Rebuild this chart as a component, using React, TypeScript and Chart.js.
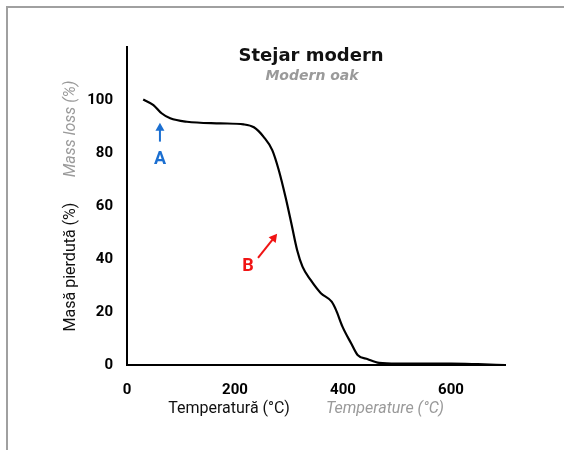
import { useEffect, useRef } from "react";
import { Chart, registerables } from "chart.js";

Chart.register(...registerables);

// ---- data ----
const TEMPERATURE = [30, 49, 64, 80, 111, 173, 216, 235, 253, 269, 281, 294, 305, 315, 325, 340, 359, 379, 387, 399, 415, 427, 446, 467, 500, 550, 600, 650, 700];
const MASS_LOSS = [100.2, 98.1, 95, 93.1, 91.8, 91.2, 90.8, 89.7, 86.1, 81.1, 73.6, 63, 52.8, 43.4, 37.1, 32.1, 27.1, 23.9, 20.8, 14.5, 8.2, 3.8, 2.2, 0.8, 0.5, 0.5, 0.5, 0.3, 0];
const X_TICKS = [0, 200, 400, 600];
const Y_TICKS = [0, 20, 40, 60, 80, 100];
const X_MAX = 700;
const Y_MAX = 120;

// ---- text ----
const TITLE = "Stejar modern";
const SUBTITLE = "Modern oak";
const Y_TITLE_RO = "Masă pierdută (%)";
const Y_TITLE_EN = "Mass loss (%)";
const X_TITLE_RO = "Temperatură (°C)";
const X_TITLE_EN = "Temperature (°C)";

// ---- annotations (data coordinates) ----
const LABEL_A = "A";
const ARROW_A_FROM = [61, 84.3];
const ARROW_A_TO = [61, 91.4];
const LABEL_A_AT = [61, 77.7];
const LABEL_B = "B";
const ARROW_B_FROM = [242.6, 40.4];
const ARROW_B_TO = [278, 49.5];
const LABEL_B_AT = [224, 37];

const BLUE = "#1b6fd1";
const RED = "#f01414";
const GRAY = "#9a9a9a";

function drawArrow(ctx: CanvasRenderingContext2D, x1: number, y1: number, x2: number, y2: number, color: string) {
  const head = 8;
  const half = 4.5;
  const ang = Math.atan2(y2 - y1, x2 - x1);
  const c = Math.cos(ang);
  const s = Math.sin(ang);
  ctx.save();
  ctx.strokeStyle = color;
  ctx.fillStyle = color;
  ctx.lineWidth = 2;
  ctx.beginPath();
  ctx.moveTo(x1, y1);
  ctx.lineTo(x2 - head * 0.8 * c, y2 - head * 0.8 * s);
  ctx.stroke();
  ctx.beginPath();
  ctx.moveTo(x2, y2);
  ctx.lineTo(x2 - head * c + half * s, y2 - head * s - half * c);
  ctx.lineTo(x2 - head * c - half * s, y2 - head * s + half * c);
  ctx.closePath();
  ctx.fill();
  ctx.restore();
}

const overlayPlugin = {
  id: "overlay",
  afterDraw(chart: any) {
    const ctx: CanvasRenderingContext2D = chart.ctx;
    const xs = chart.scales.x;
    const ys = chart.scales.y;
    ctx.save();
    ctx.textAlign = "center";
    ctx.textBaseline = "middle";

    // titles
    ctx.fillStyle = "#111";
    ctx.font = "bold 18px 'DejaVu Sans'";
    ctx.fillText(TITLE, 311, 56);
    ctx.fillStyle = GRAY;
    ctx.font = "italic bold 14px 'DejaVu Sans'";
    ctx.fillText(SUBTITLE, 312, 76);

    // x titles
    ctx.font = "16px Roboto";
    ctx.fillStyle = "#111";
    ctx.fillText(X_TITLE_RO, 229, 409);
    ctx.font = "italic 16px Roboto";
    ctx.fillStyle = GRAY;
    ctx.fillText(X_TITLE_EN, 385, 409);

    // y titles
    ctx.save();
    ctx.translate(71, 0);
    ctx.rotate(-Math.PI / 2);
    ctx.font = "16px Roboto";
    ctx.fillStyle = "#111";
    ctx.fillText(Y_TITLE_RO, -267, 0);
    ctx.font = "italic 16px Roboto";
    ctx.fillStyle = GRAY;
    ctx.fillText(Y_TITLE_EN, -129, 0);
    ctx.restore();

    // annotations
    drawArrow(ctx, xs.getPixelForValue(ARROW_A_FROM[0]), ys.getPixelForValue(ARROW_A_FROM[1]), xs.getPixelForValue(ARROW_A_TO[0]), ys.getPixelForValue(ARROW_A_TO[1]), BLUE);
    ctx.font = "bold 18px Roboto";
    ctx.fillStyle = BLUE;
    ctx.fillText(LABEL_A, xs.getPixelForValue(LABEL_A_AT[0]), ys.getPixelForValue(LABEL_A_AT[1]));

    drawArrow(ctx, xs.getPixelForValue(ARROW_B_FROM[0]), ys.getPixelForValue(ARROW_B_FROM[1]), xs.getPixelForValue(ARROW_B_TO[0]), ys.getPixelForValue(ARROW_B_TO[1]), RED);
    ctx.fillStyle = RED;
    ctx.fillText(LABEL_B, xs.getPixelForValue(LABEL_B_AT[0]), ys.getPixelForValue(LABEL_B_AT[1]));

    ctx.restore();
  },
};

export default function App() {
  const ref = useRef<HTMLCanvasElement>(null);

  useEffect(() => {
    if (!ref.current) return;
    const tickFont = { family: "Roboto", size: 15, weight: "bold" as const };
    const chart = new Chart(ref.current, {
      type: "line",
      data: {
        datasets: [
          {
            data: TEMPERATURE.map((t, i) => ({ x: t, y: MASS_LOSS[i] })),
            borderColor: "#000",
            borderWidth: 2.2,
            pointRadius: 0,
            fill: false,
            cubicInterpolationMode: "monotone",
          },
        ],
      },
      options: {
        responsive: false,
        animation: false,
        layout: { padding: { top: 47, right: 59, left: 0, bottom: 0 } },
        plugins: { legend: { display: false }, tooltip: { enabled: false }, title: { display: false } },
        scales: {
          x: {
            type: "linear",
            min: 0,
            max: X_MAX,
            grid: { display: false, drawTicks: false },
            border: { display: true, color: "#000", width: 2 },
            ticks: { font: tickFont, color: "#000", padding: 16, maxRotation: 0 },
            afterBuildTicks: (s: any) => {
              s.ticks = X_TICKS.map((v) => ({ value: v }));
            },
            afterFit: (s: any) => {
              s.height = 85;
            },
          },
          y: {
            type: "linear",
            min: 0,
            max: Y_MAX,
            grid: { display: false, drawTicks: false },
            border: { display: true, color: "#000", width: 2 },
            ticks: { font: tickFont, color: "#000", padding: 14 },
            afterBuildTicks: (s: any) => {
              s.ticks = Y_TICKS.map((v) => ({ value: v }));
            },
            afterFit: (s: any) => {
              s.width = 127;
            },
          },
        },
      },
      plugins: [overlayPlugin],
    });
    return () => chart.destroy();
  }, []);

  return (
    <div style={{ position: "absolute", left: 0, top: 0, width: 564, height: 450, background: "#fff" }}>
      <div
        style={{
          position: "absolute",
          left: 6,
          top: 6,
          right: 0,
          bottom: 0,
          borderLeft: "2px solid #a0a0a0",
          borderTop: "2px solid #a0a0a0",
        }}
      />
      <canvas ref={ref} width={564} height={450} style={{ position: "absolute", left: 0, top: 0 }} />
    </div>
  );
}
